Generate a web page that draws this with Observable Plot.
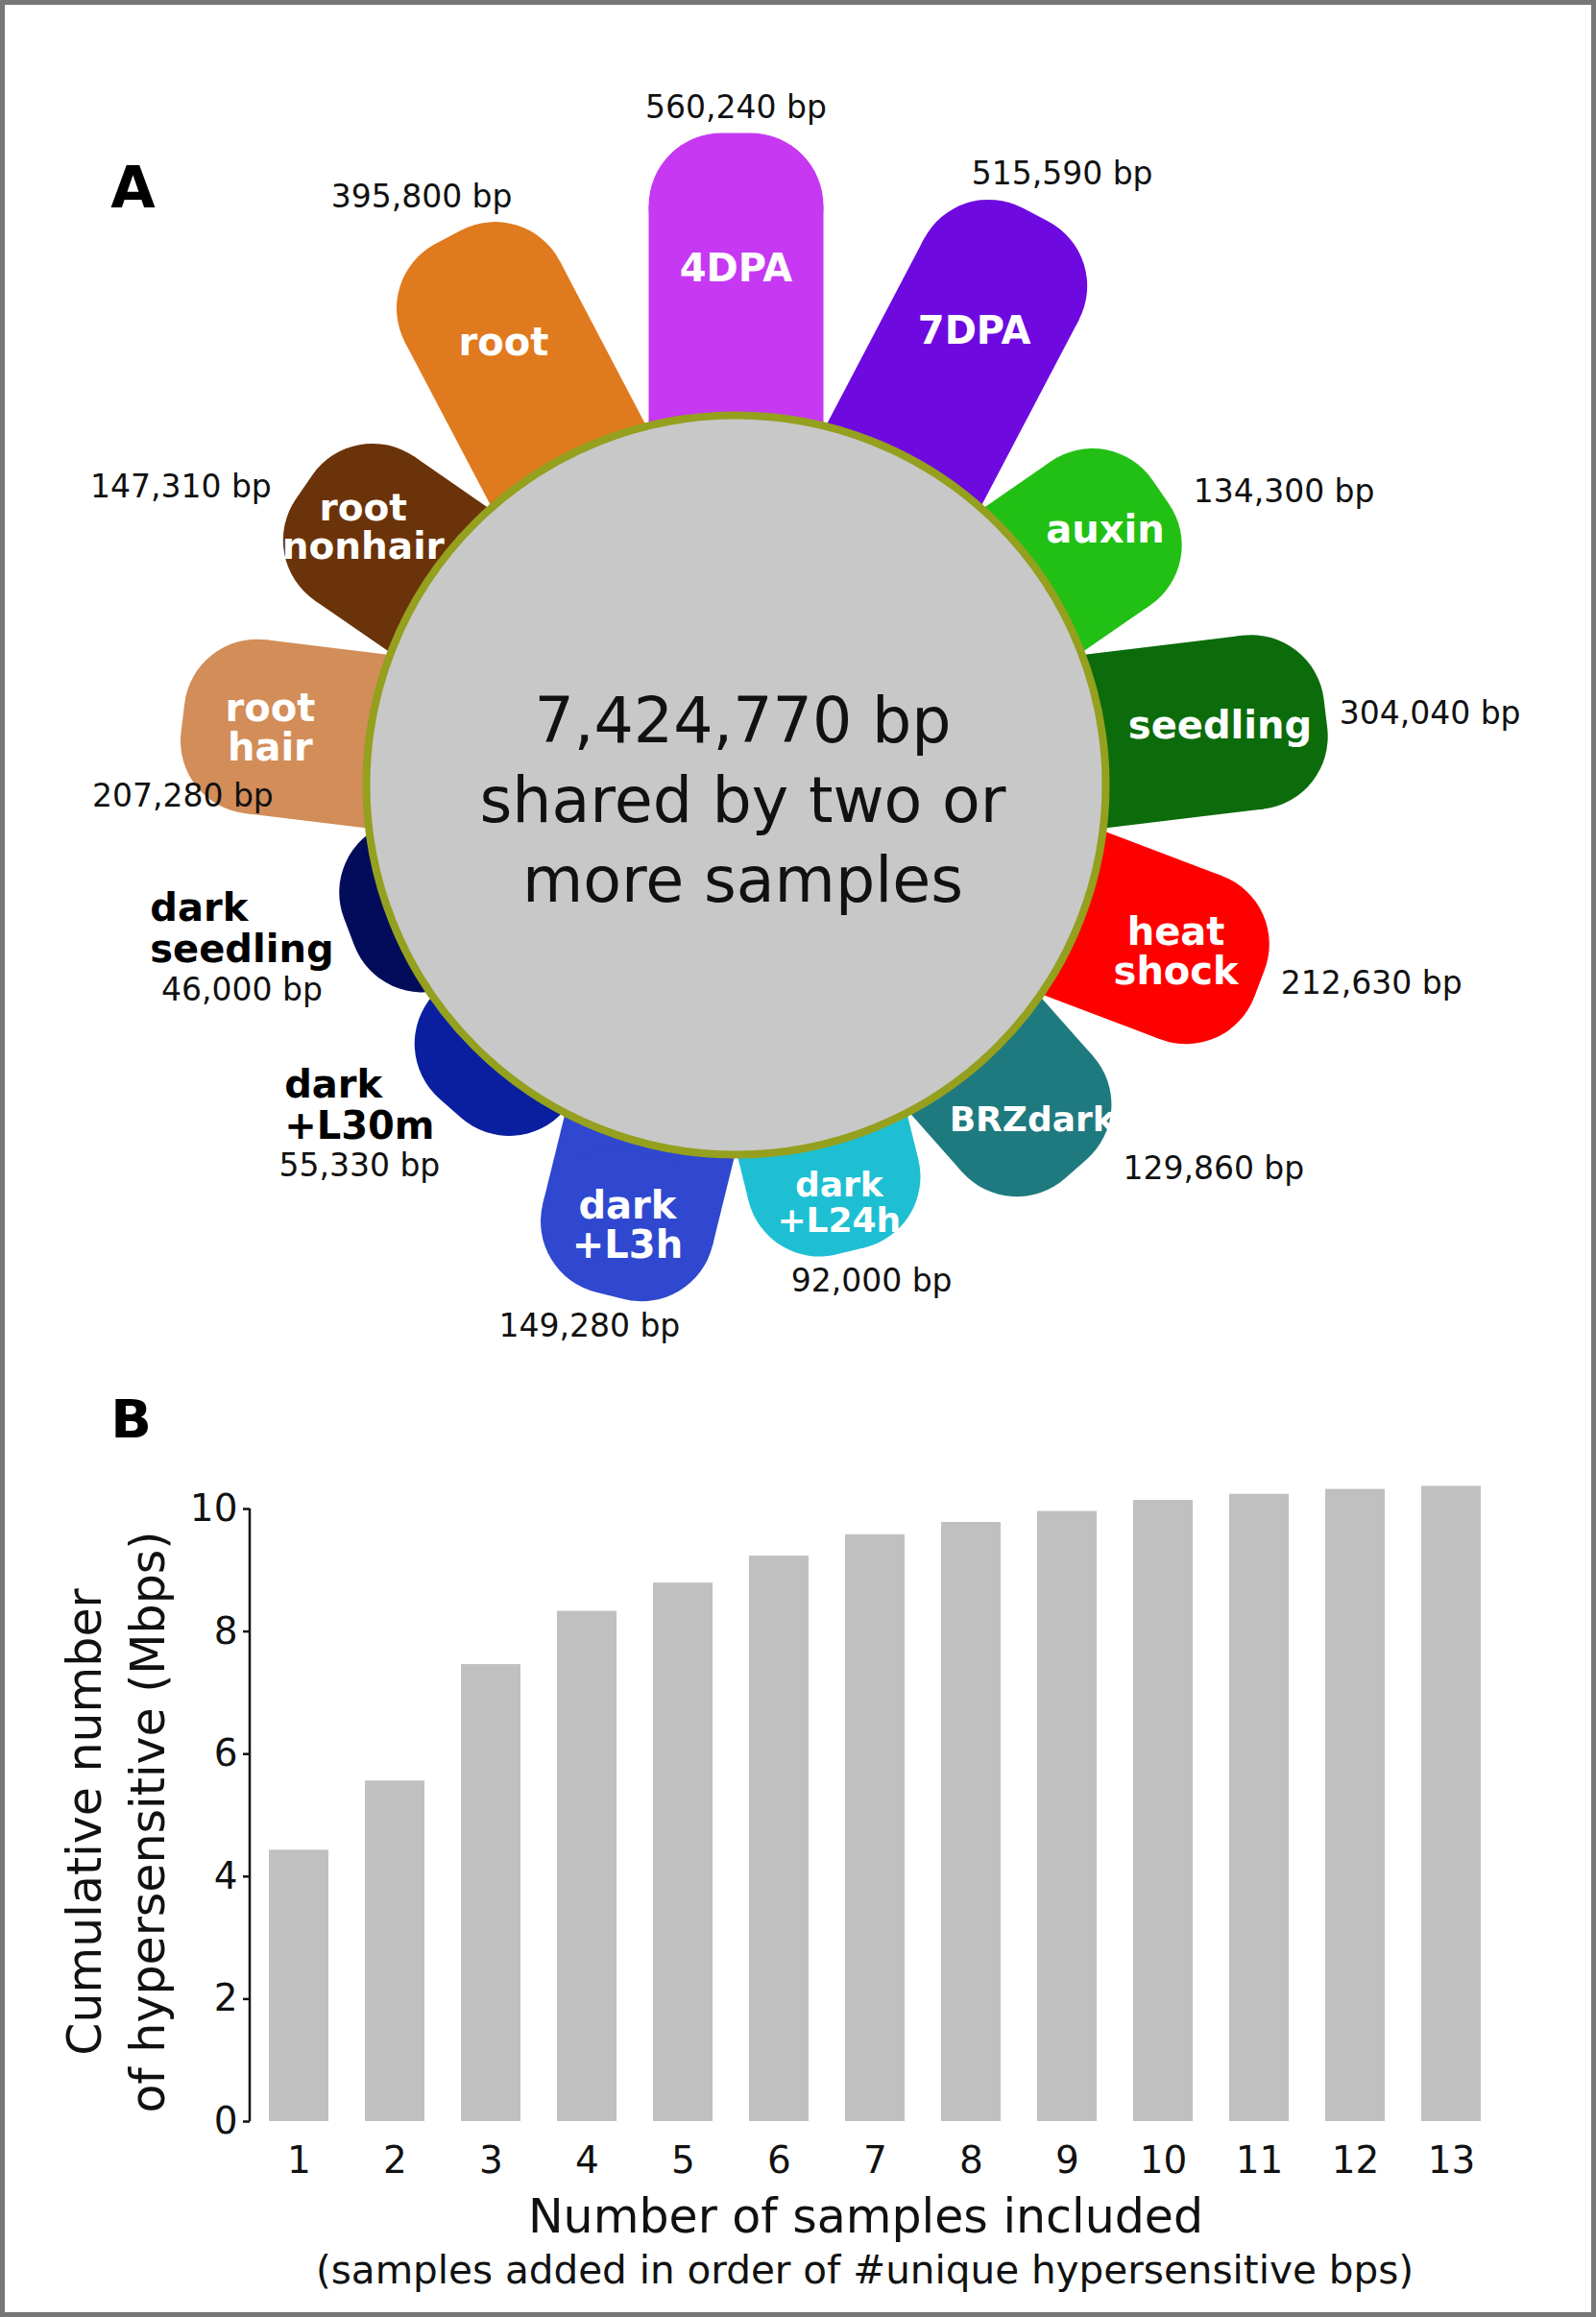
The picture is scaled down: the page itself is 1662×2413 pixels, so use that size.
<!DOCTYPE html>
<html>
<head>
<meta charset="utf-8">
<script src="https://cdn.jsdelivr.net/npm/d3@7"></script>
<script src="https://cdn.jsdelivr.net/npm/@observablehq/plot@0.6"></script>
<style>
  html, body { margin: 0; padding: 0; background: #fff; }
  #page { position: relative; width: 1662px; height: 2413px; overflow: hidden; background: #fff; font-family: "DejaVu Sans", sans-serif; }
  #a { position: absolute; left: 0; top: 0; width: 1662px; }
  #b { position: absolute; left: 0; top: 1420px; width: 1662px; }
  #frame { position: absolute; left: 0; top: 0; width: 1662px; height: 2413px; box-sizing: border-box; border: 5px solid #777; pointer-events: none; }
  svg { display: block; }
</style>
</head>
<body>
<div id="page"><div id="a"></div><div id="b"></div><div id="frame"></div></div>
<script>
// ---------------- data ----------------
const samples = ["4DPA", "7DPA", "auxin", "seedling", "heat shock", "BRZdark", "dark +L24h",
                 "dark +L3h", "dark +L30m", "dark seedling", "root hair", "root nonhair", "root"];
const uniqueBp = [560240, 515590, 134300, 304040, 212630, 129860, 92000,
                  149280, 55330, 46000, 207280, 147310, 395800];
const sharedBp = 7424770;

const samplesIncluded = [1, 2, 3, 4, 5, 6, 7, 8, 9, 10, 11, 12, 13];
const cumulativeMbps = [4.43, 5.56, 7.46, 8.33, 8.79, 9.23, 9.58, 9.78, 9.96, 10.14, 10.24, 10.32, 10.37];
const yTicks = [0, 2, 4, 6, 8, 10];

// ---------------- styles ----------------
const petalColors = ["#c638f2", "#6e0ae0", "#22c014", "#0c6c0c", "#ff0000", "#1f7a80", "#1ebfd3",
                     "#2f48cf", "#0a1f9f", "#020c5a", "#d28d58", "#6b3309", "#e07a1e"];
const FONT = "'DejaVu Sans', 'Bitstream Vera Sans', sans-serif";

// ---------------- panel A ----------------
const WA = 1662, HA = 1420, CX = 766, CY = 817;
const R = 385, PW = 182, RC = 76, G = 12, HH = 14, EDGE = 20, LH = 1.03;
const tipScale = d3.scaleLog().domain(d3.extent(uniqueBp)).range([431, 679]);
const fmt = d3.format(",");
const ctx = document.createElement("canvas").getContext("2d");
const measure = (s, font) => { ctx.font = font; return ctx.measureText(s).width; };
const VALUE_FONT = "33px " + FONT;
const boldFont = fs => `bold ${fs}px ${FONT}`;

// does a white label of size fs, centred at axial distance m, stay inside its petal?
function labelFits(lines, fs, m, t, ux, uy, px, py) {
  const lat = PW / 2 - RC, tol = 4, n = lines.length;
  return lines.every((s, k) => {
    const hw = measure(s, boldFont(fs)) / 2, hh = 0.36 * fs, yo = (k - (n - 1) / 2) * LH * fs;
    return [[-hw, yo - hh], [hw, yo - hh], [-hw, yo + hh], [hw, yo + hh]].every(([x, y]) => {
      const ax = m + x * ux + y * uy, l = x * px + y * py;
      if (Math.abs(l) > PW / 2 + tol) return false;
      if (ax <= t - RC) return true;
      const dl = Math.max(0, Math.abs(l) - lat);
      return Math.hypot(ax - (t - RC), dl) <= RC + tol;
    });
  });
}

const petals = samples.map((name, i) => {
  const deg = (360 * i) / samples.length;
  const a = deg * Math.PI / 180;
  const ux = Math.sin(a), uy = -Math.cos(a);   // outward direction (screen y down)
  const px = -uy, py = ux;                       // perpendicular
  const t = tipScale(uniqueBp[i]);
  const b = t - RC, lat = PW / 2 - RC;
  const c1x = ux * b + px * lat, c1y = uy * b + py * lat;
  const c2x = ux * b - px * lat, c2y = uy * b - py * lat;
  const mid = (R + t) / 2 + 6;
  const valueText = fmt(uniqueBp[i]) + " bp";
  const hw = measure(valueText, VALUE_FONT) / 2;
  const outside = t - R < 80;
  const label = name.replace(" ", "\n");
  const lines = label.split("\n");
  const maxW = d3.max(lines, s => measure(s, boldFont(40)));
  let fs = 40;
  if (!outside) while (fs > 36 && !labelFits(lines, fs, mid, t, ux, uy, px, py)) fs -= 0.5;
  const tx = ux * t, ty = uy * t;
  const left = tx - 16 - maxW;
  // value label beside the petal end: above, right, below or left by sector
  let vx, vy;
  if (deg < 45 || deg >= 315) { vx = tx + ux * 60; vy = Math.min(c1y, c2y) - RC - G - HH; }
  else if (deg < 150) { vx = Math.max(c1x, c2x) + RC + G + hw; vy = ty; }
  else if (deg < 250) { vx = tx + ux * 90; vy = Math.max(c1y, c2y) + RC + G + HH; }
  else { vx = Math.min(c1x, c2x) - RC - G - hw; vy = ty; }
  // a label that would leave the page goes under the petal tip instead
  if (vx - hw < EDGE - CX || vx + hw > WA - CX - EDGE) { vx = tx; vy = ty + 0.45 * PW; }
  if (outside) { vx = left + maxW / 2; vy = ty + 61; }
  return {
    name, label, valueText, outside, vx, vy, fs,
    bx: ux * b, by: uy * b, c1x, c1y, c2x, c2y,
    lx: ux * mid, ly: uy * mid,
    nx: left, ny: ty - 3.5
  };
});

const plotA = Plot.plot({
  width: WA, height: HA, margin: 0,
  x: {domain: [-CX, WA - CX], range: [0, WA], axis: null},
  y: {domain: [-CY, HA - CY], range: [0, HA], axis: null},
  color: {domain: samples, range: petalColors},
  style: {fontFamily: FONT, background: "transparent", maxWidth: "none", overflow: "visible"},
  marks: [
    Plot.link(petals, {x1: () => 0, y1: () => 0, x2: "bx", y2: "by", stroke: "name",
                       strokeWidth: PW, strokeLinecap: "butt"}),
    Plot.link(petals, {x1: "c1x", y1: "c1y", x2: "c2x", y2: "c2y", stroke: "name",
                       strokeWidth: 2 * RC, strokeLinecap: "round"}),
    Plot.text(petals.filter(d => !d.outside), {x: "lx", y: "ly", text: "label", fill: "white",
                       fontWeight: "bold", fontSize: "fs", lineHeight: LH}),
    Plot.dot([sharedBp], {x: () => 0, y: () => 0, r: R, fill: "#c8c8c8", stroke: "#94a01e", strokeWidth: 8}),
    Plot.text([sharedBp], {x: () => 0, y: () => 12, dx: 7,
                       text: d => `${fmt(d)} bp\nshared by two or\nmore samples`,
                       fontSize: 65, lineHeight: 1.28, fill: "#111"}),
    Plot.text(petals.filter(d => d.outside), {x: "nx", y: "ny", text: "label", textAnchor: "start",
                       fill: "#000", fontWeight: "bold", fontSize: 40, lineHeight: 1.075}),
    Plot.text(petals, {x: "vx", y: "vy", text: "valueText", fontSize: 33, fill: "#111"}),
    Plot.text(["A"], {frameAnchor: "top-left", dx: 138, dy: 196, text: d => d,
                       textAnchor: "middle", lineAnchor: "middle",
                       fontWeight: "bold", fontSize: 60, fill: "#000"})
  ]
});
document.getElementById("a").appendChild(plotA);

// ---------------- panel B ----------------
const bars = samplesIncluded.map((k, i) => ({k, v: cumulativeMbps[i]}));
const WB = 1662, HB = 993, ML = 260, MR = 100, MT = 151, MB = 204;
const plotB = Plot.plot({
  width: WB, height: HB,
  marginLeft: ML, marginRight: MR, marginTop: MT, marginBottom: MB,
  x: {type: "band", domain: samplesIncluded, paddingInner: 0.376, paddingOuter: 0.188},
  y: {domain: [0, 10]},
  style: {fontFamily: FONT, background: "transparent", maxWidth: "none", overflow: "visible"},
  marks: [
    Plot.barY(bars, {x: "k", y: "v", fill: "#c0c0c0"}),
    Plot.ruleX([0], {x: null, dx: ML - (ML + WB - MR) / 2 - 0.5, stroke: "#111", strokeWidth: 2.5}),
    Plot.axisY({ticks: yTicks, tickSize: 7, tickPadding: 6, fontSize: 39, strokeWidth: 2.5,
                label: null, tickFormat: d => String(d), fill: "#111", stroke: "#111"}),
    Plot.axisX({tickSize: 0, tickPadding: 26, fontSize: 39, label: null, fill: "#111"}),
    Plot.text(["Number of samples included"], {frameAnchor: "bottom", dx: -10, dy: 100,
                textAnchor: "middle", lineAnchor: "middle",
                text: d => d, fontSize: 49, fill: "#111"}),
    Plot.text(["(samples added in order of #unique hypersensitive bps)"], {frameAnchor: "bottom",
                dx: -11, dy: 156, textAnchor: "middle", lineAnchor: "middle",
                text: d => d, fontSize: 40.5, fill: "#111"}),
    Plot.text(["Cumulative number\nof hypersensitive (Mbps)"], {frameAnchor: "top-left",
                dx: 116 - ML, dy: 477 - MT, rotate: -90, text: d => d,
                textAnchor: "middle", lineAnchor: "middle",
                fontSize: 49, lineHeight: 1.35, fill: "#111"}),
    Plot.text(["B"], {frameAnchor: "top-left", dx: 136 - ML, dy: 59 - MT, text: d => d,
                textAnchor: "middle", lineAnchor: "middle",
                fontWeight: "bold", fontSize: 56, fill: "#000"})
  ]
});
document.getElementById("b").appendChild(plotB);
</script>
</body>
</html>
